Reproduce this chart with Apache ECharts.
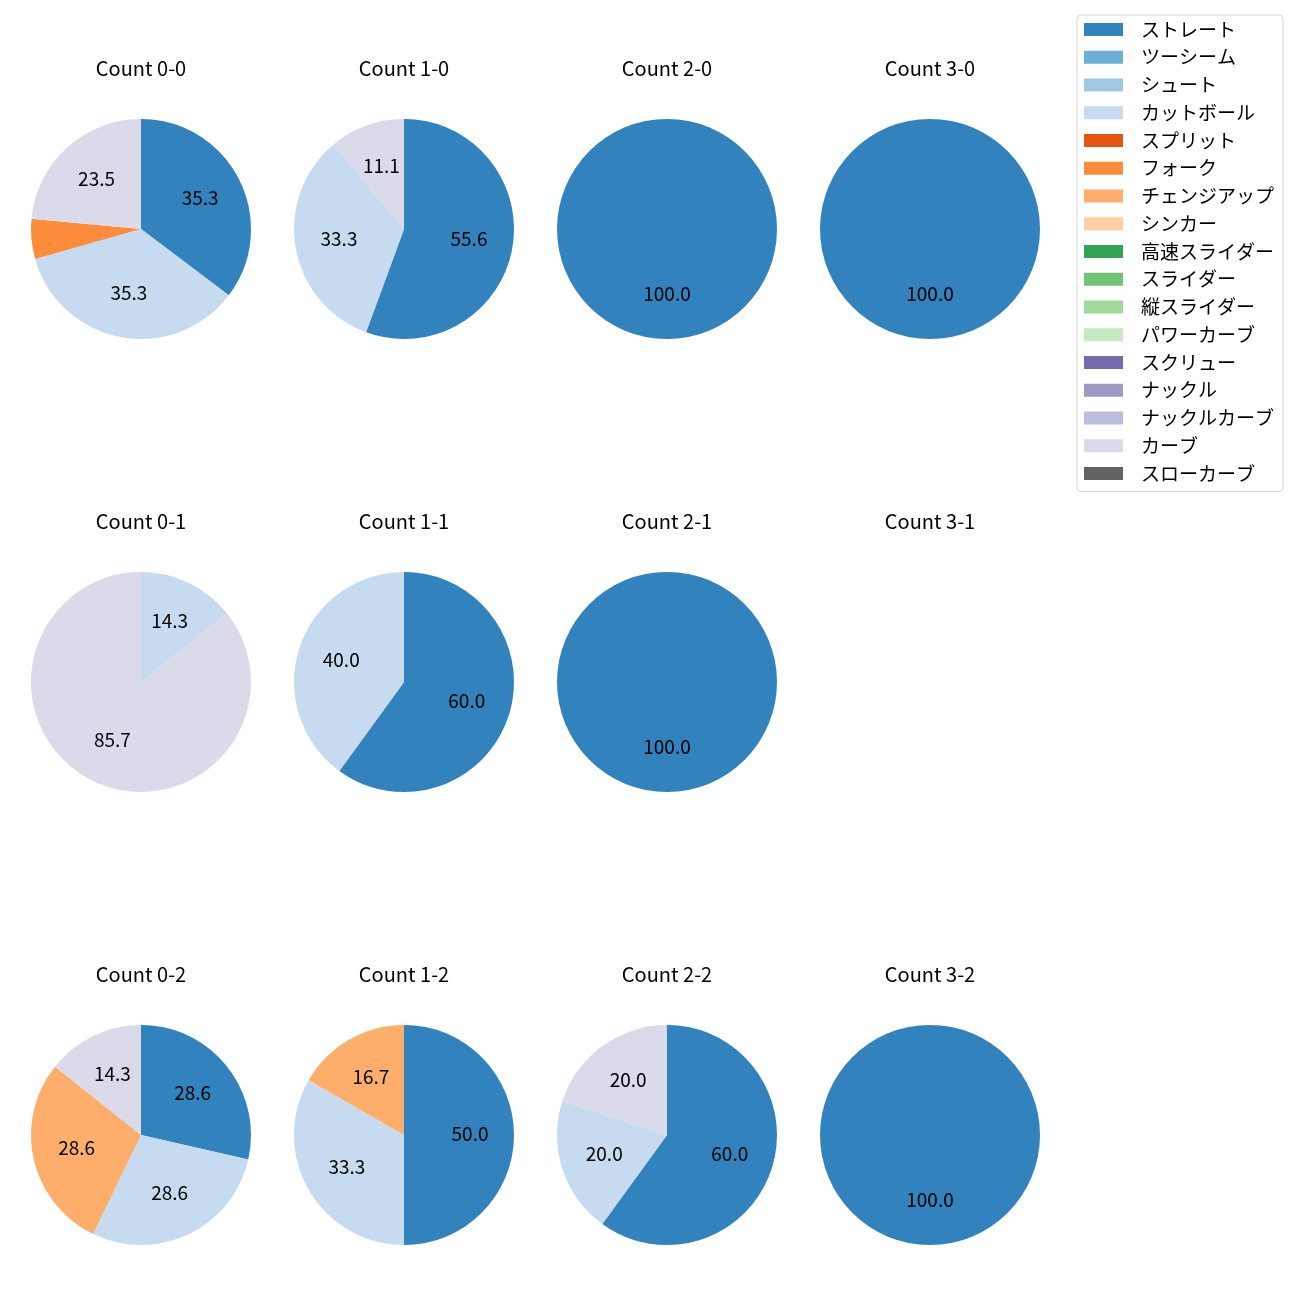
<!DOCTYPE html>
<html>
<head>
<meta charset="utf-8">
<script src="https://cdn.jsdelivr.net/npm/echarts@6/dist/echarts.min.js"></script>
<style>
html,body{margin:0;padding:0;background:#fff;}
#chart{width:1300px;height:1300px;}
</style>
</head>
<body>
<div id="chart"></div>
<script>
// Pitch types (legend order) and their colours
const pitchTypes = ['ストレート','ツーシーム','シュート','カットボール','スプリット','フォーク','チェンジアップ','シンカー','高速スライダー','スライダー','縦スライダー','パワーカーブ','スクリュー','ナックル','ナックルカーブ','カーブ','スローカーブ'];
const pitchColors = ['#3182bd','#6baed6','#9ecae1','#c6dbef','#e6550d','#fd8d3c','#fdae6b','#fdd0a2','#31a354','#74c476','#a1d99b','#c7e9c0','#756bb1','#9e9ac8','#bcbddc','#dadaeb','#636363'];

// Counts (panel order: row by row)
const countLabels = ['Count 0-0','Count 1-0','Count 2-0','Count 3-0',
                     'Count 0-1','Count 1-1','Count 2-1','Count 3-1',
                     'Count 0-2','Count 1-2','Count 2-2','Count 3-2'];

// Percentages per pitch type for each count (same order as countLabels)
const straightPct  = [35.3, 55.6, 100, 100,   0, 60, 100, 0, 28.6, 50.0, 60, 100];
const cutterPct    = [35.3, 33.3,   0,   0, 14.3, 40,   0, 0, 28.6, 33.3, 20,   0];
const forkPct      = [ 5.9,    0,   0,   0,    0,  0,   0, 0,    0,    0,  0,   0];
const changeupPct  = [   0,    0,   0,   0,    0,  0,   0, 0, 28.6, 16.7,  0,   0];
const curvePct     = [23.5, 11.1,   0,   0, 85.7,  0,   0, 0, 14.3,    0, 20,   0];

const seriesByType = {
  'ストレート': straightPct,
  'カットボール': cutterPct,
  'フォーク': forkPct,
  'チェンジアップ': changeupPct,
  'カーブ': curvePct
};

const FONT = 'Noto Sans CJK JP';
const colX = [141, 404, 667, 930];
const rowY = [229, 682, 1135];
const R = 110;

const titles = [];
const series = [];

countLabels.forEach((label, i) => {
  const cx = colX[i % 4], cy = rowY[Math.floor(i / 4)];
  titles.push({
    text: label,
    left: cx, top: cy - 171,
    padding: 0,
    textAlign: 'center',
    textStyle: {fontFamily: FONT, fontSize: 20, fontWeight: 'normal', color: '#000', lineHeight: 20}
  });
  const data = [];
  pitchTypes.forEach((p, k) => {
    const arr = seriesByType[p];
    if (arr && arr[i] > 0) {
      data.push({name: p, value: arr[i], itemStyle: {color: pitchColors[k]}});
    }
  });
  if (!data.length) return;
  // visible pie
  series.push({
    type: 'pie',
    center: [cx, cy], radius: [0, R],
    startAngle: 90, clockwise: true,
    silent: true, animation: false,
    itemStyle: {borderWidth: 0},
    label: {show: false}, labelLine: {show: false},
    emphasis: {disabled: true},
    data: data
  });
  // transparent overlay for labels at about 0.6 R
  series.push({
    type: 'pie',
    center: [cx, cy], radius: [16, R],
    startAngle: 90, clockwise: true,
    silent: true, animation: false,
    itemStyle: {color: 'rgba(0,0,0,0)', borderWidth: 0},
    label: {
      show: true, position: 'inside',
      fontFamily: FONT, fontSize: 19, color: '#000',
      offset: [0, -1.5],
      formatter: p => (p.value >= 10 ? p.value.toFixed(1) : '')
    },
    labelLine: {show: false},
    emphasis: {disabled: true},
    data: data.map(d => ({name: d.name, value: d.value, itemStyle: {color: 'rgba(0,0,0,0)'}}))
  });
});

// dummy series so that every pitch type appears in the legend
series.unshift({
  type: 'pie', center: [-100, -100], radius: [0, 0],
  silent: true, animation: false,
  label: {show: false}, labelLine: {show: false},
  data: pitchTypes.map((p, k) => ({name: p, value: 1, itemStyle: {color: pitchColors[k]}}))
});

const chart = echarts.init(document.getElementById('chart'), null, {renderer: 'canvas'});
chart.setOption({
  animation: false,
  backgroundColor: '#fff',
  title: titles,
  legend: {
    orient: 'vertical',
    left: 1077, top: 15,
    data: pitchTypes,
    icon: 'rect',
    itemWidth: 39, itemHeight: 13,
    itemGap: 7.75,
    padding: [4.5, 9, 8, 7],
    borderColor: '#d6d6d6', borderWidth: 1, borderRadius: 4,
    backgroundColor: '#fff',
    selectedMode: false,
    textStyle: {fontFamily: FONT, fontSize: 19, color: '#000', lineHeight: 20, padding: [0, 0, 0, 13]}
  },
  series: series
});
</script>
</body>
</html>
